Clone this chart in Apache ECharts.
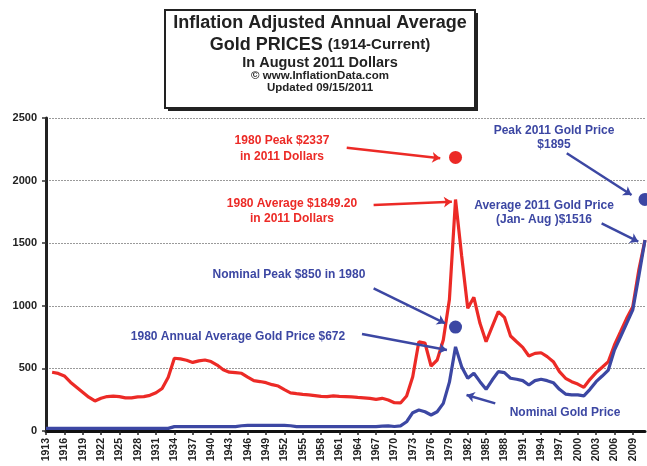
<!DOCTYPE html>
<html>
<head>
<meta charset="utf-8">
<script src="https://cdn.jsdelivr.net/npm/echarts@6/dist/echarts.min.js"></script>
<style>
html,body{margin:0;padding:0;background:#fff;}
#chart{width:647px;height:466px;}
</style>
</head>
<body>
<div id="chart"></div>
<script>
// ---- data ----
var years = [];
for (var y = 1913; y <= 2011; y++) years.push(String(y));

// Inflation adjusted (2011 dollars), 1913..2011
var realPrice = [
  null, 469, 460, 440, 390, 350, 310, 270, 240, 262,
  275, 278, 275, 265, 265, 272, 275, 285, 305, 340,
  430, 581, 576, 565, 548, 560, 567, 555, 527, 490,
  470, 466, 461, 430, 402, 395, 386, 370, 359, 330,
  305, 298, 292, 288, 283, 276, 274, 280, 277, 275,
  272, 268, 265, 260, 253, 261, 248, 226, 224, 280,
  434, 713, 703, 519, 567, 727, 1050, 1849, 1400, 980,
  1068, 860, 713, 833, 953, 908, 759, 713, 668, 599,
  620, 625, 594, 554, 474, 421, 394, 375, 349, 413,
  466, 509, 554, 687, 793, 900, 993, 1290, 1525
];

// Nominal annual average, 1913..2011
var nominalPrice = [
  21, 21, 21, 21, 21, 21, 21, 21, 21, 21,
  21, 21, 21, 21, 21, 21, 21, 21, 21, 21,
  21, 35, 35, 35, 35, 35, 35, 35, 35, 35,
  35, 35, 42, 45, 45, 45, 45, 45, 45, 45,
  42, 35, 35, 35, 35, 35, 35, 35, 35, 35,
  35, 35, 35, 35, 35, 39, 41, 36, 41, 74,
  146, 168, 154, 128, 154, 221, 390, 672, 514, 421,
  461, 394, 333, 407, 474, 466, 421, 413, 402, 367,
  402, 413, 402, 386, 333, 295, 288, 288, 280, 333,
  394, 439, 487, 647, 753, 860, 967, 1240, 1525
];

// highlighted points
var redPeakPoint = [['1980', 2185]];
var bluePoints = [['1980', 830], ['2011', 1850]];

// annotation arrows [fromYear, fromValue, toYear, toValue]
var redArrows = [
  [1962.2, 2262, 1977.5, 2178],
  [1966.6, 1805, 1979.4, 1831]
];
var blueArrows = [
  [1966.6, 1140, 1978.3, 860],
  [1964.7, 775, 1978.6, 647],
  [1986.5, 221, 1981.8, 288],
  [1998.2, 2218, 2008.8, 1885],
  [2003.9, 1659, 2009.9, 1512]
];

var RED = '#ec2a26';
var BLUE = '#3c47a3';
var FONT = 'Liberation Sans, Arial, sans-serif';

function arrowData(arr) {
  return arr.map(function (a) { return { coords: [[a[0], a[1]], [a[2], a[3]]] }; });
}

function txt(x, y, s, color, size) {
  return {
    type: 'text', x: x, y: y, silent: true,
    style: {
      text: s, fill: color, font: 'bold ' + (size || 12) + 'px ' + FONT,
      textAlign: 'center', textVerticalAlign: 'middle'
    }
  };
}

var chart = echarts.init(document.getElementById('chart'), null, { renderer: 'canvas' });

var option = {
  animation: false,
  backgroundColor: '#fff',
  grid: { left: 46, right: 2, top: 118, bottom: 35, containLabel: false },
  xAxis: [{
    type: 'category',
    data: years,
    boundaryGap: false,
    axisLine: { lineStyle: { color: '#111', width: 3 } },
    axisTick: { show: true, interval: 2, length: 4, lineStyle: { color: '#222', width: 1.5 } },
    axisLabel: {
      interval: 2, rotate: 90, margin: 7,
      color: '#222', fontSize: 10.5, fontWeight: 'bold', fontFamily: FONT
    },
    splitLine: { show: false }
  }, {
    type: 'value', min: 1913, max: 2011, show: false
  }],
  yAxis: {
    type: 'value', min: 0, max: 2500, interval: 500,
    axisLine: { show: true, lineStyle: { color: '#222', width: 3 } },
    axisTick: { show: true, length: 4, lineStyle: { color: '#333', width: 1.5 } },
    axisLabel: {
      color: '#222', fontSize: 11, fontWeight: 'bold', fontFamily: FONT, margin: 9,
      formatter: function (v) { return String(v); }
    },
    splitLine: { show: true, lineStyle: { color: '#9a9a9a', type: [2, 1], width: 1 } }
  },
  series: [
    {
      name: 'Inflation Adjusted', type: 'line', data: realPrice,
      showSymbol: false, symbol: 'none', connectNulls: false,
      lineStyle: { color: RED, width: 3.2 }, z: 3
    },
    {
      name: 'Nominal', type: 'line', data: nominalPrice,
      showSymbol: false, symbol: 'none',
      lineStyle: { color: BLUE, width: 3.2 }, z: 4
    },
    {
      type: 'scatter', data: redPeakPoint, symbolSize: 13,
      itemStyle: { color: RED, opacity: 1 }, z: 5, silent: true
    },
    {
      type: 'scatter', data: bluePoints, symbolSize: 13,
      itemStyle: { color: BLUE, opacity: 1 }, z: 5, silent: true
    },
    {
      type: 'lines', coordinateSystem: 'cartesian2d', xAxisIndex: 1, yAxisIndex: 0,
      data: arrowData(redArrows), symbol: ['none', 'arrow'], symbolSize: 8,
      lineStyle: { color: RED, width: 2.5, opacity: 1, curveness: 0 }, z: 6, silent: true
    },
    {
      type: 'lines', coordinateSystem: 'cartesian2d', xAxisIndex: 1, yAxisIndex: 0,
      data: arrowData(blueArrows), symbol: ['none', 'arrow'], symbolSize: 8,
      lineStyle: { color: BLUE, width: 2.5, opacity: 1, curveness: 0 }, z: 6, silent: true
    }
  ],
  graphic: [
    { type: 'rect', shape: { x: 168, y: 13, width: 310, height: 98 }, style: { fill: '#222' }, z: 10, silent: true },
    { type: 'rect', shape: { x: 165, y: 10, width: 310, height: 98 }, style: { fill: '#fff', stroke: '#222', lineWidth: 2 }, z: 11, silent: true },
    {
      type: 'text', x: 320, y: 23, z: 12, silent: true,
      style: { text: 'Inflation Adjusted Annual Average', fill: '#222', font: 'bold 18px ' + FONT, textAlign: 'center', textVerticalAlign: 'middle' }
    },
    {
      type: 'text', x: 320, y: 45, z: 12, silent: true,
      style: {
        text: '{a|Gold PRICES }{b|(1914-Current)}', textAlign: 'center', textVerticalAlign: 'middle',
        rich: {
          a: { fill: '#222', font: 'bold 18px ' + FONT },
          b: { fill: '#222', font: 'bold 15px ' + FONT }
        }
      }
    },
    Object.assign(txt(320, 63, 'In August 2011 Dollars', '#222', 14.5), { z: 12 }),
    Object.assign(txt(320, 76, '\u00a9 www.InflationData.com', '#222', 11.5), { z: 12 }),
    Object.assign(txt(320, 88, 'Updated 09/15/2011', '#222', 11.5), { z: 12 }),

    txt(282, 141, '1980 Peak $2337', RED),
    txt(282, 157, 'in 2011 Dollars', RED),
    txt(292, 204, '1980 Average $1849.20', RED),
    txt(292, 219, 'in 2011 Dollars', RED),
    txt(289, 275, 'Nominal Peak $850 in 1980', BLUE),
    txt(238, 337, '1980 Annual Average Gold Price $672', BLUE),
    txt(554, 131, 'Peak 2011 Gold Price', BLUE),
    txt(554, 145, '$1895', BLUE),
    txt(544, 206, 'Average 2011 Gold Price', BLUE),
    txt(544, 220, '(Jan- Aug )$1516', BLUE),
    txt(565, 413, 'Nominal Gold Price', BLUE)
  ]
};
chart.setOption(option);
</script>
</body>
</html>
